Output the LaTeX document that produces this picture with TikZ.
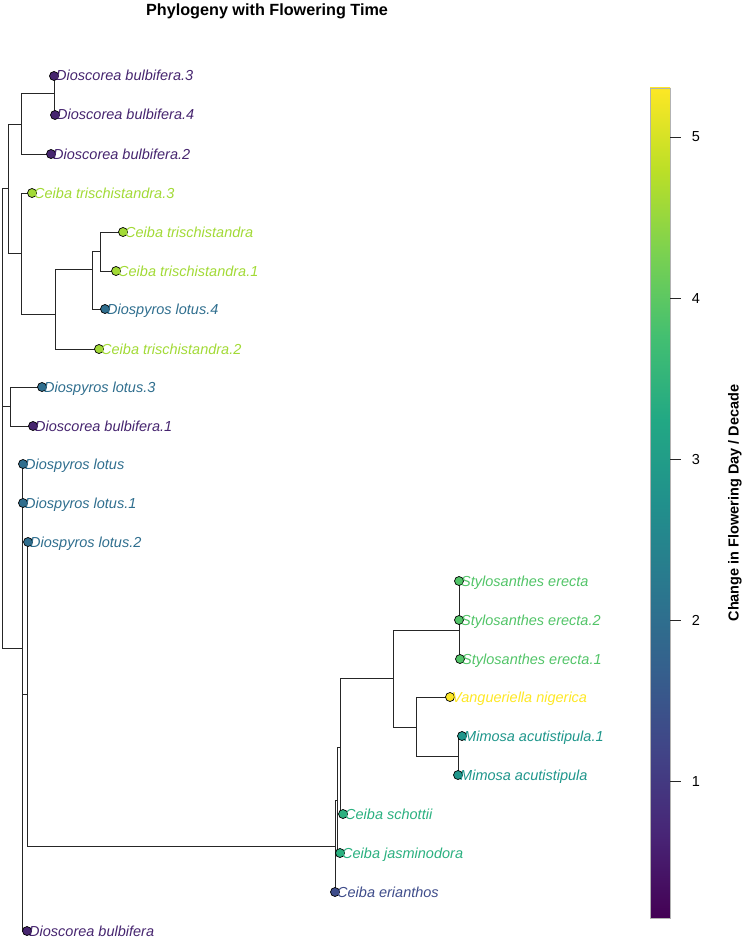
\documentclass[tikz,border=0pt]{standalone}
\usepackage{fontspec}
\setmainfont{Liberation Sans}
\usepackage{xcolor}
\usetikzlibrary{positioning}
\definecolor{dbpurple}{HTML}{46256F}
\definecolor{ctgreen}{HTML}{A2DA36}
\definecolor{dlblue}{HTML}{2F6E8E}
\definecolor{stgreen}{HTML}{52C468}
\definecolor{vnyellow}{HTML}{FDE725}
\definecolor{mateal}{HTML}{1F968B}
\definecolor{cbgreen}{HTML}{2AB07F}
\definecolor{cepurple}{HTML}{3E4C8A}
\definecolor{vir0}{HTML}{440154}
\definecolor{vir1}{HTML}{482576}
\definecolor{vir2}{HTML}{414487}
\definecolor{vir3}{HTML}{35608D}
\definecolor{vir4}{HTML}{2A788E}
\definecolor{vir5}{HTML}{21908C}
\definecolor{vir6}{HTML}{22A884}
\definecolor{vir7}{HTML}{43BF71}
\definecolor{vir8}{HTML}{7AD151}
\definecolor{vir9}{HTML}{BBDF27}
\definecolor{vir10}{HTML}{FDE725}

\begin{document}
\begin{tikzpicture}[x=1pt, y=-1pt, every node/.style={font=\fontsize{14.5}{16}\selectfont}]
      \tikzstyle{branch}=[draw=black!85, line width=1pt]
      \tikzstyle{tipdot}=[circle, draw=black, line width=0.7pt, minimum size=9pt, inner sep=0pt]
      \tikzstyle{tiplab}=[anchor=base west, inner sep=0pt, xshift=2pt, yshift=-5pt, font=\fontsize{14.5}{16}\selectfont\itshape]
      \useasboundingbox (0,0) rectangle (746,939);
      % tips
      \coordinate (d3) at (54,76);
      \coordinate (d4) at (55,115);
      \coordinate (d2) at (51,154);
      \coordinate (ct3) at (32,193);
      \coordinate (ct0) at (123,232);
      \coordinate (ct1) at (116,271);
      \coordinate (dl4) at (105,309);
      \coordinate (ct2) at (99,349);
      \coordinate (dl3) at (42,387);
      \coordinate (d1) at (33,426);
      \coordinate (dl0) at (23,464);
      \coordinate (dl1) at (23,503);
      \coordinate (dl2) at (28,542);
      \coordinate (se0) at (459,581);
      \coordinate (se2) at (459,620);
      \coordinate (se1) at (460,659);
      \coordinate (vn) at (450,697);
      \coordinate (ma1) at (462,736);
      \coordinate (ma0) at (458,775);
      \coordinate (cs) at (343,814);
      \coordinate (cj) at (340,853);
      \coordinate (ce) at (335,892);
      \coordinate (d0) at (27,931);
      % internal nodes
      \coordinate (r) at (2.7,414);
      \coordinate (n1) at (8.7,188);
      \coordinate (n2) at (21,125);
      \coordinate (n4) at (54,94);
      \coordinate (n3) at (21,253);
      \coordinate (n5) at (55,314);
      \coordinate (n6) at (92,269);
      \coordinate (n7) at (100,251);
      \coordinate (n9) at (10,406);
      \coordinate (nA) at (22.7,648);
      \coordinate (nB) at (27.7,694);
      \coordinate (nC) at (335,846);
      \coordinate (nD) at (337.5,800);
      \coordinate (nE) at (340.7,747);
      \coordinate (nF) at (393,678);
      \coordinate (nS) at (459,630);
      \coordinate (nG) at (416,727);
      \coordinate (nM) at (458,756);
      % branches
      \foreach \p/\c in {r/n1, r/n9, r/nA, n1/n2, n1/n3, n2/n4, n2/d2, n4/d3, n4/d4,
          n3/ct3, n3/n5, n5/n6, n5/ct2, n6/n7, n6/dl4, n7/ct0, n7/ct1, n9/dl3, n9/d1,
          nA/dl0, nA/dl1, nA/nB, nA/d0, nB/dl2, nB/nC, nC/nD, nC/ce, nD/nE, nD/cj,
          nE/nF, nE/cs, nF/nS, nF/nG, nS/se0, nS/se2, nS/se1, nG/vn, nG/nM, nM/ma1, nM/ma0}
        \draw[branch] (\p) |- (\c);
      % tip dots and labels
      \foreach \t/\c/\l in {d3/dbpurple/Dioscorea bulbifera.3, d4/dbpurple/Dioscorea bulbifera.4,
          d2/dbpurple/Dioscorea bulbifera.2, ct3/ctgreen/Ceiba trischistandra.3,
          ct0/ctgreen/Ceiba trischistandra, ct1/ctgreen/Ceiba trischistandra.1,
          dl4/dlblue/Diospyros lotus.4, ct2/ctgreen/Ceiba trischistandra.2,
          dl3/dlblue/Diospyros lotus.3, d1/dbpurple/Dioscorea bulbifera.1,
          dl0/dlblue/Diospyros lotus, dl1/dlblue/Diospyros lotus.1, dl2/dlblue/Diospyros lotus.2,
          se0/stgreen/Stylosanthes erecta, se2/stgreen/Stylosanthes erecta.2,
          se1/stgreen/Stylosanthes erecta.1, vn/vnyellow/Vangueriella nigerica,
          ma1/mateal/Mimosa acutistipula.1, ma0/mateal/Mimosa acutistipula,
          cs/cbgreen/Ceiba schottii, cj/cbgreen/Ceiba jasminodora,
          ce/cepurple/Ceiba erianthos, d0/dbpurple/Dioscorea bulbifera} {
        \node[tipdot, fill=\c] (\t-dot) at (\t) {};
        \node[tiplab, text=\c] (\t-lab) at (\t) {\l};
      }
      % colour bar
      \foreach \i [count=\j] in {0,...,9}
        \shade[bottom color=vir\i, top color=vir\j] (650,{918-83*\i}) rectangle (670,{918-83*\j});
      \draw[gray!60, line width=0.6pt] (650,88) rectangle (670,918);
      \foreach \v in {1,...,5} {
        \coordinate (tk\v) at (670,{943-161.2*\v});
        \coordinate (te\v) at (681,{943-161.2*\v});
        \draw[black!85, line width=0.8pt] (tk\v) -- (te\v);
        \node (tl\v) at (696,{943-161.2*\v}) {\v};
      }
      \node[rotate=90, font=\bfseries\fontsize{14.5}{16}\selectfont] (bartitle) at (735,503) {Change in Flowering Day / Decade};
      \node[anchor=base, font=\bfseries\fontsize{16.2}{18}\selectfont] (title) at (267,16) {Phylogeny with Flowering Time};
    \end{tikzpicture}
\end{document}
